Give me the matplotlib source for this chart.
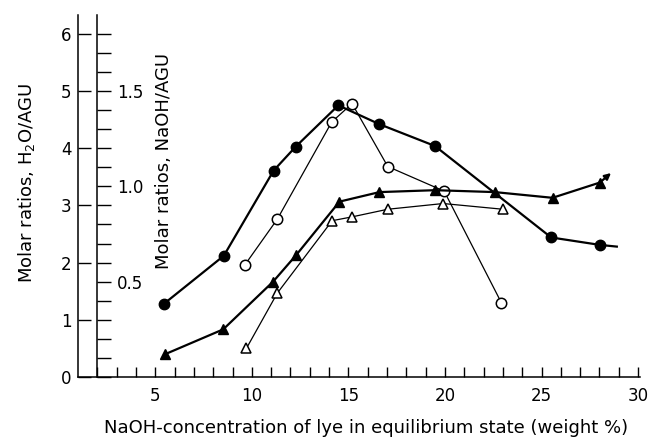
import matplotlib
matplotlib.use("Agg")
import matplotlib.pyplot as plt
from matplotlib.ticker import FixedLocator, MultipleLocator, FixedFormatter

plt.rcParams['font.family'] = ['DejaVu Sans']

# Scale relation between the two ordinates: NaOH/AGU = 0.3 * H2O/AGU
NAOH_PER_H2O = 0.3
Y_TOP_H2O = 6.33

# H2O/AGU, filled circles
x_h2o_filled = [5.45, 8.55, 11.13, 12.28, 14.48, 16.61, 19.48, 25.5, 28.02]
y_h2o_filled = [1.28, 2.12, 3.61, 4.03, 4.75, 4.42, 4.04, 2.44, 2.31]
x_h2o_filled_tail = [28.02, 28.9]
y_h2o_filled_tail = [2.31, 2.28]

# H2O/AGU, open circles
x_h2o_open = [9.64, 11.32, 14.14, 15.19, 17.04, 19.96, 22.92]
y_h2o_open = [1.96, 2.76, 4.46, 4.78, 3.68, 3.25, 1.30]

# NaOH/AGU, filled triangles
x_naoh_filled = [5.52, 8.52, 11.1, 12.3, 14.54, 16.61, 19.5, 22.58, 25.57, 28.02]
y_naoh_filled = [0.12, 0.25, 0.50, 0.64, 0.92, 0.97, 0.98, 0.97, 0.94, 1.02]
x_naoh_filled_tail = [28.02, 28.6]
y_naoh_filled_tail = [1.02, 1.07]

# NaOH/AGU, open triangles
x_naoh_open = [9.72, 11.32, 14.16, 15.19, 17.04, 19.91, 23.0]
y_naoh_open = [0.15, 0.44, 0.82, 0.84, 0.88, 0.91, 0.88]

x_major = [5, 10, 15, 20, 25, 30]
x_minor = list(range(2, 31))
h2o_ticks = [0, 1, 2, 3, 4, 5, 6]
naoh_major = [0.5, 1.0, 1.5]
naoh_major_labels = ["0.5", "1.0", "1.5"]

W, H = 650, 437
fig = plt.figure(figsize=(W / 100, H / 100), dpi=100)
ax = fig.add_axes([78 / W, (H - 377) / H, 562 / W, 362 / H])
ax.set_xlim(1, 30.1)
ax.set_ylim(0, Y_TOP_H2O)

for s in ("top", "right"):
    ax.spines[s].set_visible(False)
for s in ("left", "bottom"):
    ax.spines[s].set_linewidth(1.1)

ax.xaxis.set_major_locator(FixedLocator(x_major))
ax.xaxis.set_minor_locator(FixedLocator(x_minor))
ax.yaxis.set_major_locator(FixedLocator(h2o_ticks))
ax.tick_params(axis='x', which='both', direction='in', length=7, width=1.0,
               labelsize=12, pad=7)
ax.tick_params(axis='y', which='major', direction='in', length=9, width=1.0,
               labelsize=12, pad=4.5)

# Inner ordinate for NaOH/AGU
ax2 = ax.twinx()
ax2.set_ylim(0, Y_TOP_H2O * NAOH_PER_H2O)
for s in ("top", "left", "bottom"):
    ax2.spines[s].set_visible(False)
ax2.spines["right"].set_position(("data", 2))
ax2.spines["right"].set_linewidth(1.1)
ax2.yaxis.set_major_locator(FixedLocator(naoh_major))
ax2.yaxis.set_major_formatter(FixedFormatter(naoh_major_labels))
ax2.yaxis.set_minor_locator(MultipleLocator(0.1))
ax2.tick_params(axis='y', which='both', direction='out', length=10, width=1.0,
                labelsize=12, pad=4)

# H2O/AGU curves
ax.plot(x_h2o_filled, y_h2o_filled, color='black', lw=1.6, marker='o',
        ms=7.5, mfc='black', mec='black', zorder=3)
ax.plot(x_h2o_filled_tail, y_h2o_filled_tail, color='black', lw=1.6, zorder=3)
ax.plot(x_h2o_open, y_h2o_open, color='black', lw=0.9, marker='o',
        ms=7.5, mfc='white', mec='black', mew=1.1, zorder=4)

# NaOH/AGU curves
ax2.plot(x_naoh_filled, y_naoh_filled, color='black', lw=1.6, marker='^',
         ms=7.5, mfc='black', mec='black', zorder=3)
ax2.annotate("", xy=(x_naoh_filled_tail[1], y_naoh_filled_tail[1]),
             xytext=(x_naoh_filled_tail[0], y_naoh_filled_tail[0]),
             arrowprops=dict(arrowstyle='-|>', color='black', lw=1.6,
                             mutation_scale=9, shrinkA=0, shrinkB=0))
ax2.plot(x_naoh_open, y_naoh_open, color='black', lw=0.9, marker='^',
         ms=7.5, mfc='white', mec='black', mew=1.1, zorder=4)

fig.text(27 / W, 1 - 183 / H, "Molar ratios, H$_2$O/AGU", rotation=90,
         ha='center', va='center', fontsize=13)
fig.text(164 / W, 1 - 161 / H, "Molar ratios, NaOH/AGU", rotation=90,
         ha='center', va='center', fontsize=13)
fig.text(366 / W, 1 - 428 / H,
         "NaOH-concentration of lye in equilibrium state (weight %)",
         ha='center', va='center', fontsize=13)

fig.savefig("out.png", dpi=100)
